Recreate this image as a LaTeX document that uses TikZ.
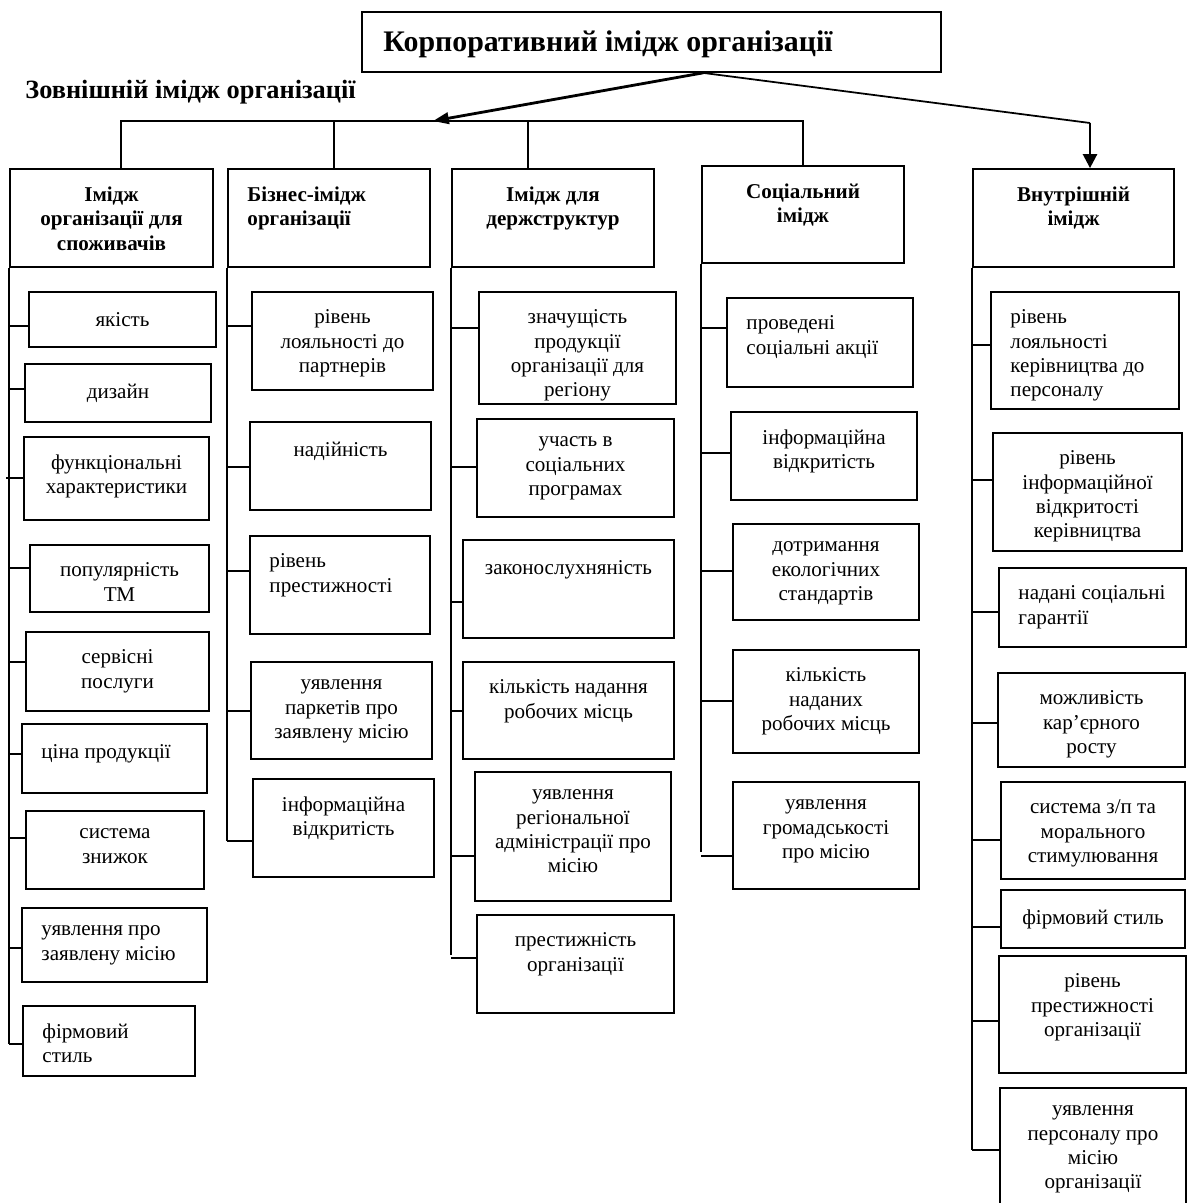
\documentclass[tikz,border=0pt]{standalone}
\usepackage{fontspec}
\setmainfont{Liberation Serif}
\usetikzlibrary{positioning,fit,arrows.meta}

\begin{document}
\begin{tikzpicture}[
        x=0.02cm, y=-0.02cm,
        sub/.style={draw, line width=1pt, inner sep=0pt},
        ctr/.style={anchor=north, align=center, inner sep=0pt, yshift=-0.37cm,
            font=\fontsize{12}{13.8}\selectfont, execute at begin node=\strut},
        lft/.style={ctr, anchor=north west, align=left, xshift=0.4cm},
        bctr/.style={ctr, font=\fontsize{12}{13.8}\selectfont\bfseries},
        blft/.style={lft, font=\fontsize{12}{13.8}\selectfont\bfseries},
        ttl/.style={anchor=base west, inner sep=0pt, xshift=0.44cm, yshift=-0.2cm,
            font=\fontsize{17}{20}\selectfont\bfseries},
        wire/.style={line width=1pt},
        >={Triangle[length=8pt,width=8pt]}
    ]
        \useasboundingbox (0,0) rectangle (1189,1203);

        % top level
        \node[sub, fit={(362,12) (941,72)}, label={[ttl]west:Корпоративний імідж організації}] (top) {};
        \node[anchor=base west, inner sep=0pt, font=\fontsize{15}{18}\selectfont\bfseries] (ext) at (25,99) {Зовнішній імідж організації};

        % image groups
        \node[sub, fit={(10,169) (213,267)}, label={[bctr]north:{Імідж\\організації для\\споживачів}}] (c1) {};
        \node[sub, fit={(228,169) (430,267)}, label={[blft]north west:{Бізнес-імідж\\організації}}] (c2) {};
        \node[sub, fit={(452,169) (654,267)}, label={[bctr]north:{Імідж для\\держструктур}}] (c3) {};
        \node[sub, fit={(702,166) (904,263)}, label={[bctr]north:{Соціальний\\імідж}}] (c4) {};
        \node[sub, fit={(973,169) (1174,267)}, label={[bctr]north:{Внутрішній\\імідж}}] (c5) {};

        % consumers
        \node[sub, fit={(29,292) (216,347)}, label={[ctr]north:якість}] (k1) {};
        \node[sub, fit={(25,364) (211,422)}, label={[ctr]north:дизайн}] (k2) {};
        \node[sub, fit={(24,437) (209,520)}, label={[ctr]north:{функціональні\\характеристики}}] (k3) {};
        \node[sub, fit={(30,545) (209,612)}, label={[ctr]north:{популярність\\ТМ}}] (k4) {};
        \node[sub, fit={(26,632) (209,711)}, label={[ctr]north:{сервісні\\послуги}}] (k5) {};
        \node[sub, fit={(22,724) (207,793)}, label={[lft]north west:ціна продукції}] (k6) {};
        \node[sub, fit={(26,811) (204,889)}, label={[ctr]north:{система\\знижок}}] (k7) {};
        \node[sub, fit={(22,908) (207,982)}, label={[lft]north west:{уявлення про\\заявлену місію}}] (k8) {};
        \node[sub, fit={(23,1006) (195,1076)}, label={[lft]north west:{фірмовий\\стиль}}] (k9) {};

        % business
        \node[sub, fit={(252,292) (433,390)}, label={[ctr]north:{рівень\\лояльності до\\партнерів}}] (b1) {};
        \node[sub, fit={(250,422) (431,510)}, label={[ctr]north:надійність}] (b2) {};
        \node[sub, fit={(250,536) (430,634)}, label={[lft]north west:{рівень\\престижності}}] (b3) {};
        \node[sub, fit={(251,662) (432,759)}, label={[ctr]north:{уявлення\\паркетів про\\заявлену місію}}] (b4) {};
        \node[sub, fit={(253,779) (434,877)}, label={[ctr]north:{інформаційна\\відкритість}}] (b5) {};

        % state bodies
        \node[sub, fit={(479,292) (676,404)}, label={[ctr]north:{значущість\\продукції\\організації для\\регіону}}] (d1) {};
        \node[sub, fit={(477,419) (674,517)}, label={[ctr]north:{участь в\\соціальних\\програмах}}] (d2) {};
        \node[sub, fit={(463,540) (674,638)}, label={[ctr]north:законослухняність}] (d3) {};
        \node[sub, fit={(463,662) (674,759)}, label={[ctr]north:{кількість надання\\робочих місць}}] (d4) {};
        \node[sub, fit={(475,772) (671,901)}, label={[ctr]north:{уявлення\\регіональної\\адміністрації про\\місію}}] (d5) {};
        \node[sub, fit={(477,915) (674,1013)}, label={[ctr]north:{престижність\\організації}}] (d6) {};

        % social
        \node[sub, fit={(727,298) (913,387)}, label={[lft]north west:{проведені\\соціальні акції}}] (s1) {};
        \node[sub, fit={(731,412) (917,500)}, label={[ctr]north:{інформаційна\\відкритість}}] (s2) {};
        \node[sub, fit={(733,524) (919,620)}, label={[ctr]north:{дотримання\\екологічних\\стандартів}}] (s3) {};
        \node[sub, fit={(733,650) (919,753)}, label={[ctr]north:{кількість\\наданих\\робочих місць}}] (s4) {};
        \node[sub, fit={(733,782) (919,889)}, label={[ctr]north:{уявлення\\громадськості\\про місію}}] (s5) {};

        % internal
        \node[sub, fit={(991,292) (1179,409)}, label={[lft]north west:{рівень\\лояльності\\керівництва до\\персоналу}}] (v1) {};
        \node[sub, fit={(993,433) (1182,551)}, label={[ctr]north:{рівень\\інформаційної\\відкритості\\керівництва}}] (v2) {};
        \node[sub, fit={(999,568) (1186,647)}, label={[lft]north west:{надані соціальні\\гарантії}}] (v3) {};
        \node[sub, fit={(998,673) (1185,767)}, label={[ctr]north:{можливість\\кар’єрного\\росту}}] (v4) {};
        \node[sub, fit={(1001,782) (1185,879)}, label={[ctr]north:{система з/п та\\морального\\стимулювання}}] (v5) {};
        \node[sub, fit={(1001,890) (1185,948)}, label={[ctr]north:фірмовий стиль}] (v6) {};
        \node[sub, fit={(999,956) (1186,1073)}, label={[ctr]north:{рівень\\престижності\\організації}}] (v7) {};
        \node[sub, fit={(1000,1088) (1186,1212)}, label={[ctr]north:{уявлення\\персоналу про\\місію\\організації}}] (v8) {};

        % tree from the top box
        \coordinate (fork) at (top.south -| 703,0);
        \coordinate (bus) at (433,121);
        \coordinate (kink) at (1090,123);
        \draw[wire] (c1.north -| 121,0) |- (c4.north |- bus) -- (c4.north);
        \draw[wire] (c2.north -| 334,0) -- (bus -| 334,0);
        \draw[wire] (c3.north -| 528,0) -- (bus -| 528,0);
        \draw[line width=1.6pt, -{Triangle[length=9pt,width=6.5pt]}] (fork) -- (bus);
        \draw[wire] (fork) -- (kink);
        \draw[line width=1.4pt, ->] (kink) -- (c5.north -| kink);

        % spines
        \coordinate (sp1) at (c1.south west);
        \coordinate (sp2) at (c2.south west);
        \coordinate (sp3) at (c3.south west);
        \coordinate (sp4) at (c4.south west);
        \coordinate (sp5) at (c5.south west);
        \draw[wire] (sp1) -- (sp1 |- 0,1044);
        \draw[wire] (sp2) -- (sp2 |- 0,841);
        \draw[wire] (sp3) -- (sp3 |- 0,955);
        \draw[wire] (sp4) -- (sp4 |- 0,852);
        \draw[wire] (sp5) -- (sp5 |- 0,1150);

        % ticks
        \draw[wire] (sp1 |- 0,326) -- (k1.west |- 0,326);
        \draw[wire] (sp1 |- 0,389) -- (k2.west |- 0,389);
        \draw[wire] ([xshift=-0.06cm]sp1 |- 0,478) -- (k3.west |- 0,478);
        \draw[wire] (sp1 |- 0,568) -- (k4.west |- 0,568);
        \draw[wire] (sp1 |- 0,662) -- (k5.west |- 0,662);
        \draw[wire] (sp1 |- 0,754) -- (k6.west |- 0,754);
        \draw[wire] (sp1 |- 0,838) -- (k7.west |- 0,838);
        \draw[wire] (sp1 |- 0,948) -- (k8.west |- 0,948);
        \draw[wire] (sp1 |- 0,1044) -- (k9.west |- 0,1044);

        \draw[wire] (sp2 |- 0,326) -- (b1.west |- 0,326);
        \draw[wire] (sp2 |- 0,467) -- (b2.west |- 0,467);
        \draw[wire] (sp2 |- 0,571) -- (b3.west |- 0,571);
        \draw[wire] (sp2 |- 0,711) -- (b4.west |- 0,711);
        \draw[wire] (sp2 |- 0,841) -- (b5.west |- 0,841);

        \draw[wire] (sp3 |- 0,328) -- (d1.west |- 0,328);
        \draw[wire] (sp3 |- 0,467) -- (d2.west |- 0,467);
        \draw[wire] (sp3 |- 0,602) -- (d3.west |- 0,602);
        \draw[wire] (sp3 |- 0,711) -- (d4.west |- 0,711);
        \draw[wire] (sp3 |- 0,856) -- (d5.west |- 0,856);
        \draw[wire] (sp3 |- 0,958) -- (d6.west |- 0,958);

        \draw[wire] (sp4 |- 0,328) -- (s1.west |- 0,328);
        \draw[wire] (sp4 |- 0,453) -- (s2.west |- 0,453);
        \draw[wire] (sp4 |- 0,571) -- (s3.west |- 0,571);
        \draw[wire] (sp4 |- 0,701) -- (s4.west |- 0,701);
        \draw[wire] (sp4 |- 0,856) -- (s5.west |- 0,856);

        \draw[wire] (sp5 |- 0,345) -- (v1.west |- 0,345);
        \draw[wire] (sp5 |- 0,480) -- (v2.west |- 0,480);
        \draw[wire] (sp5 |- 0,612) -- (v3.west |- 0,612);
        \draw[wire] (sp5 |- 0,723) -- (v4.west |- 0,723);
        \draw[wire] (sp5 |- 0,840) -- (v5.west |- 0,840);
        \draw[wire] (sp5 |- 0,927) -- (v6.west |- 0,927);
        \draw[wire] (sp5 |- 0,1021) -- (v7.west |- 0,1021);
        \draw[wire] (sp5 |- 0,1150) -- (v8.west |- 0,1150);
    \end{tikzpicture}
\end{document}
